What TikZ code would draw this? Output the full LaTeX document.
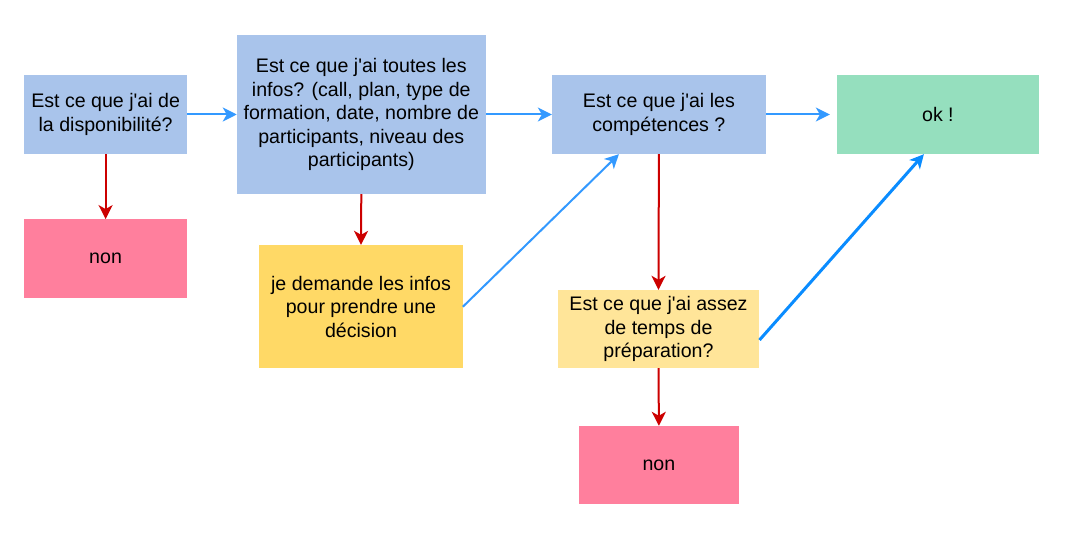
\documentclass[tikz,border=0pt]{standalone}
\usepackage{fontspec}
\newfontfamily\boxff{Liberation Sans}[Ligatures=TeXOff]
\usetikzlibrary{arrows.meta}
\definecolor{boxblue}{HTML}{A9C4EB}
\definecolor{boxpink}{HTML}{FF7F9D}
\definecolor{boxgreen}{HTML}{95DFBE}
\definecolor{boxyellow}{HTML}{FFD966}
\definecolor{boxlight}{HTML}{FFE599}
\definecolor{arrblue}{HTML}{3399FF}
\definecolor{arrblue2}{HTML}{0A8CFF}
\definecolor{arrred}{HTML}{CC0000}
\newcommand\boxfnt{\boxff\fontsize{19.6bp}{23.5bp}\selectfont}
\tikzset{
  box/.style={rectangle, inner sep=0pt, align=center, font=\boxfnt, text=black},
  yesarrow/.style={draw=arrblue, line width=2bp, -{Stealth[length=14bp,width=14bp,inset=4bp]}},
  yesarrowthick/.style={draw=arrblue2, line width=3bp, -{Stealth[length=14bp,width=14bp,inset=4bp]}},
  noarrow/.style={draw=arrred, line width=2bp, -{Stealth[length=14bp,width=14bp,inset=4bp]}}
}
\begin{document}
\begin{tikzpicture}[x=1bp,y=-1bp]
\useasboundingbox (0,0) rectangle (1069,547);
\node[box, fill=boxblue, minimum width=162.7bp, minimum height=79bp] (A) at (105.6,114.5) {Est ce que j'ai de\\la disponibilité?};
\node[box, fill=boxblue, minimum width=248.7bp, minimum height=159bp] (B) at (361.3,114.5) {Est ce que j'ai toutes les\\infos? (call, plan, type de\\formation, date, nombre de\\participants, niveau des\\participants)};
\node[box, fill=boxblue, minimum width=213.7bp, minimum height=79bp] (C) at (658.9,114.5) {Est ce que j'ai les\\compétences ?};
\node[box, fill=boxgreen, minimum width=201.7bp, minimum height=79bp] (D) at (937.9,114.5) {ok !};
\node[box, fill=boxpink, minimum width=162.7bp, minimum height=79bp] (E) at (105.6,258.8) {non};
\node[box, fill=boxyellow, minimum width=203.4bp, minimum height=123.3bp] (F) at (361,306.7) {je demande les infos\\pour prendre une\\décision};
\node[box, fill=boxlight, minimum width=201.6bp, minimum height=78bp] (G) at (658.5,329) {Est ce que j'ai assez\\de temps de\\préparation?};
\node[box, fill=boxpink, minimum width=160.3bp, minimum height=78bp] (H) at (658.9,465) {non};
\draw[yesarrow] (A.east) -- (B.west);
\draw[yesarrow] (B.east) -- (C.west);
\draw[yesarrow, shorten >=7bp] (C.east) -- (D.west);
\draw[noarrow] (A.south) -- (E.north);
\draw[noarrow] (B.south) -- (F.north);
\draw[yesarrow] (F.east) -- ([xshift=-40bp]C.south);
\draw[noarrow] (C.south) -- (G.north);
\draw[noarrow] (G.south) -- (H.north);
\draw[yesarrowthick] ([yshift=-11bp]G.east) -- ([xshift=-14bp]D.south);
\end{tikzpicture}
\end{document}
